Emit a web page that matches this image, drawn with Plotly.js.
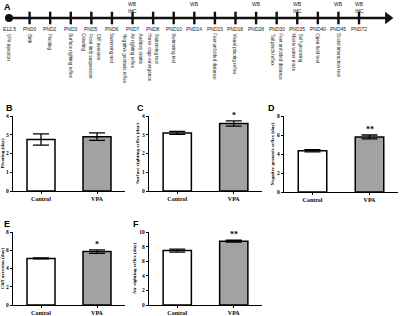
<!DOCTYPE html>
<html><head><meta charset="utf-8">
<script src="https://cdn.plot.ly/plotly-3.0.1.min.js"></script>
<style>html,body{margin:0;padding:0;background:#fff;}#chart{width:400px;height:316px;}</style>
</head><body><div id="chart"></div>
<script>
// ---------- DATA ----------
const tlLabels = ['E12.5','PND0','PND2','PND3','PND5','PND6','PND7','PND8','PND10','PND14','PND15','PND18','PND28','PND30','PND35','PND40','PND45','PND72'];
const tlEvents = [
  ['VPA injection'], ['Birth'], ['Pivoting'], ['Surface righting reflex'],
  ['Crawling','Front limb suspension','Cliff aversion'], ['Swimming test'],
  ['Negative geotaxis reflex','Air righting reflex','Auditory startle'],
  ['Home cage emergence','Swimming test'], ['Swimming test'], [],
  ['Feet unfolded distance'], ['Visual placing reflex'], [],
  ['Tail pinch reflex','Feet unfolded distance'], ['Morris water maze','Self-grooming'],
  ['Open-field test'], ['Social interaction test'], []
];
const tlWB  = ['','','','','','','WB','','','WB','','','WB','','WB','','WB','WB'];
const tlIHC = ['','','','','','','IHC','','','','','','','','IHC','','','IHC'];

const groups = ['Control','VPA'];
const pivotingMean = [2.75, 2.9];
const pivotingErr  = [0.3, 0.2];
const surfaceMean  = [3.1, 3.6];
const surfaceErr   = [0.08, 0.14];
const negGeoMean   = [4.35, 5.8];
const negGeoErr    = [0.12, 0.2];
const cliffMean    = [5.1, 5.85];
const cliffErr     = [0.05, 0.2];
const airMean      = [7.45, 8.75];
const airErr       = [0.2, 0.12];
const panelTitles  = ['Pivoting (day)','Surface righting reflex (day)','Negative geotaxis reflex (day)','Cliff aversion (day)','Air righting reflex (day)'];
const panelLetters = ['B','C','D','E','F'];
const panelSig     = ['', '*', '**', '*', '**'];
const panelYMax    = [4, 4, 8, 8, 10];
const panelDtick   = [1, 1, 2, 2, 2];

// ---------- LAYOUT ----------
const W = 400, H = 316;
const xd = (a,b) => [a/W, b/W];
const yd = (top,bottom) => [1-bottom/H, 1-top/H];
const geom = [
  {x:[13,125],  y:[116,191], l:[4,101]},
  {x:[149,262], y:[116,191], l:[135,101]},
  {x:[284,398], y:[116,192], l:[266,101]},
  {x:[13,125],  y:[232,305], l:[2,217]},
  {x:[149,262], y:[232,305], l:[131,217]}
];
const means = [pivotingMean, surfaceMean, negGeoMean, cliffMean, airMean];
const errs  = [pivotingErr, surfaceErr, negGeoErr, cliffErr, airErr];

const TL_Y = -18;
const idx = tlLabels.map((_, i) => i);
const lastIdx = tlLabels.length - 1;
const arrowX = lastIdx + 1.4;

const traces = [];
const annotations = [];
const sansFont = 'Liberation Sans, Arial, sans-serif';
const serifFont = 'Liberation Serif, Times New Roman, serif';

// timeline
traces.push({type:'scatter', mode:'lines', x:[0, arrowX], y:[TL_Y, TL_Y], xaxis:'x', yaxis:'y',
  line:{color:'#111', width:2.6}, hoverinfo:'skip'});
traces.push({type:'scatter', mode:'markers', x:idx.slice(1), y:idx.slice(1).map(()=>TL_Y), xaxis:'x', yaxis:'y',
  marker:{symbol:'line-ns-open', size:9, color:'#111', line:{color:'#111', width:2.4}}, hoverinfo:'skip'});
traces.push({type:'scatter', mode:'markers', x:[0], y:[TL_Y], xaxis:'x', yaxis:'y',
  marker:{symbol:'circle', size:8, color:'#111'}, hoverinfo:'skip'});
traces.push({type:'scatter', mode:'markers', x:[arrowX], y:[TL_Y], xaxis:'x', yaxis:'y',
  marker:{symbol:'triangle-right', size:11, color:'#111'}, hoverinfo:'skip'});

tlLabels.forEach((lab, i) => {
  annotations.push({xref:'x', yref:'y', x:i, y:-29, text:lab, showarrow:false,
    font:{family:sansFont, size:5, color:'#222'}, xanchor:'center', yanchor:'middle'});
  const ev = tlEvents[i];
  ev.forEach((t, j) => {
    annotations.push({xref:'x', yref:'y', x:i, y:-31.5, text:t, showarrow:false, textangle:90,
      xshift:(j - (ev.length-1)/2) * 8,
      font:{family:sansFont, size:4.6, color:'#222'}, xanchor:'center', yanchor:'top'});
  });
  if (tlWB[i]) annotations.push({xref:'x', yref:'y', x:i, y:-3.5, text:tlWB[i], showarrow:false,
    font:{family:sansFont, size:5, color:'#222'}, xanchor:'center', yanchor:'middle'});
  if (tlIHC[i]) annotations.push({xref:'x', yref:'y', x:i, y:-10.5, text:tlIHC[i], showarrow:false,
    font:{family:sansFont, size:5, color:'#222'}, xanchor:'center', yanchor:'middle'});
});
annotations.push({xref:'paper', yref:'paper', x:2/W, y:1-0/H, text:'A', showarrow:false,
  font:{family:sansFont, size:9, weight:'bold', color:'#000'}, xanchor:'left', yanchor:'top'});

const layout = {
  width:W, height:H, margin:{l:0,r:0,t:0,b:0}, showlegend:false,
  paper_bgcolor:'#fff', plot_bgcolor:'rgba(0,0,0,0)',
  font:{family:sansFont, color:'#000'},
  xaxis:{domain:[0,1], range:[-9/20.59, (W-9)/20.59], visible:false, fixedrange:true},
  yaxis:{domain:[1-110/H, 1], range:[-110, 0], visible:false, fixedrange:true},
  annotations:annotations
};

geom.forEach((g, p) => {
  const k = p + 2;
  traces.push({type:'bar', x:groups, y:means[p], xaxis:'x'+k, yaxis:'y'+k, width:0.5,
    marker:{color:['#ffffff','#a2a2a2'], line:{color:'#000', width:1.5}},
    error_y:{type:'data', array:errs[p], visible:true, color:'#000', thickness:1.3, width:8},
    hoverinfo:'skip'});
  layout['xaxis'+k] = {domain:xd(g.x[0], g.x[1]), anchor:'y'+k, type:'category', range:[-0.5,1.5],
    showline:true, linecolor:'#000', linewidth:1.2, ticks:'outside', ticklen:1.5, tickwidth:1, tickcolor:'#000',
    tickfont:{family:serifFont, size:6, weight:'bold', color:'#000'}, showgrid:false, zeroline:false, fixedrange:true};
  layout['yaxis'+k] = {domain:yd(g.y[0], g.y[1]), anchor:'x'+k, range:[0, panelYMax[p]], dtick:panelDtick[p],
    showline:true, linecolor:'#000', linewidth:1.2, ticks:'outside', ticklen:2, tickwidth:1, tickcolor:'#000',
    tickfont:{family:serifFont, size:5.5, weight:'bold', color:'#000'}, showgrid:false, zeroline:false, fixedrange:true,
    title:{text:panelTitles[p], font:{family:serifFont, size:5, weight:'bold', color:'#000'}, standoff:2}};
  if (panelSig[p]) annotations.push({xref:'x'+k, yref:'y'+k, x:groups[1], y:means[p][1] + errs[p][1],
    text:panelSig[p], showarrow:false, yanchor:'bottom', xanchor:'center', yshift:-1,
    font:{family:serifFont, size:8, weight:'bold', color:'#000'}});
  annotations.push({xref:'paper', yref:'paper', x:g.l[0]/W, y:1-g.l[1]/H, text:panelLetters[p], showarrow:false,
    font:{family:sansFont, size:9, weight:'bold', color:'#000'}, xanchor:'left', yanchor:'top'});
});

Plotly.newPlot('chart', traces, layout, {staticPlot:true, displayModeBar:false});
</script>
</body></html>
